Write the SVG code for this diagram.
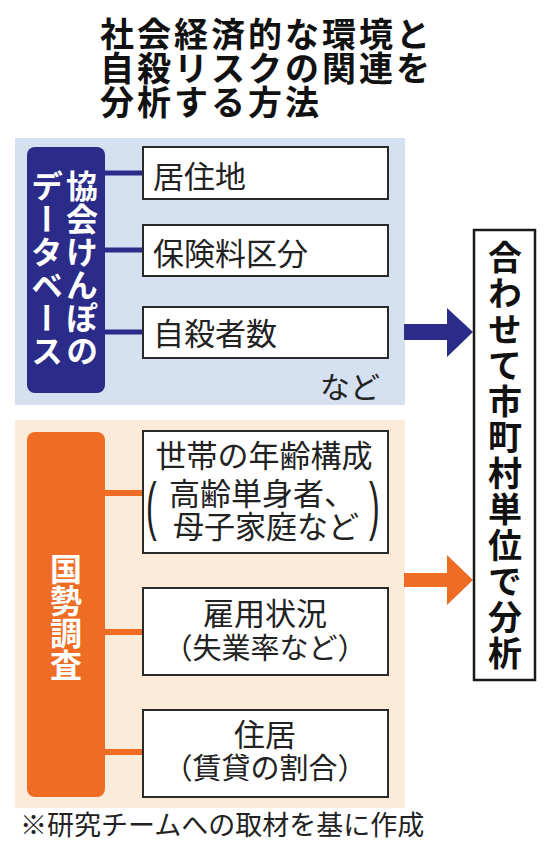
<svg xmlns="http://www.w3.org/2000/svg" width="550" height="860" viewBox="0 0 550 860">
<style>
.t{font-family:"Noto Sans CJK JP","Noto Sans CJK SC",sans-serif;}
.title{font-size:34px;font-weight:bold;fill:#111;letter-spacing:3px;}
.box{fill:#fff;stroke:#2a2a2a;stroke-width:2;}
.lbl{font-size:31px;fill:#222;}
.vert{writing-mode:vertical-rl;font-weight:bold;fill:#fff;font-size:32px;}
.cb{stroke:#2b2c8a;stroke-width:5;fill:none;}
.co{stroke:#ef6c24;stroke-width:6;fill:none;}
.par{font-family:"Liberation Sans",sans-serif;font-size:32px;fill:#222;}
</style>
<rect width="550" height="860" fill="#fff"/>
<g id="title" class="t title">
<text x="100" y="47">社会経済的な環境と</text>
<text x="100" y="81">自殺リスクの関連を</text>
<text x="100" y="115">分析する方法</text>
</g>
<rect x="15" y="138" width="390" height="267" fill="#d5e0f1"/>
<rect x="15" y="420" width="390" height="388" fill="#fdebd9"/>
<g id="connectors">
<line class="cb" x1="105" y1="173" x2="143" y2="173"/>
<line class="cb" x1="105" y1="250" x2="143" y2="250"/>
<line class="cb" x1="105" y1="332" x2="143" y2="332"/>
<line class="co" x1="105" y1="493" x2="143" y2="493"/>
<line class="co" x1="105" y1="632" x2="143" y2="632"/>
<line class="co" x1="105" y1="752" x2="143" y2="752"/>
<polygon points="404,324 447,324 447,308 473,332 447,357 447,340 404,340" fill="#2b2c8a"/>
<polygon points="404,573 447,573 447,555 473,580 447,605 447,587 404,587" fill="#ef6c24"/>
</g>
<g id="kyokai">
<rect x="27" y="147" width="78" height="246" rx="8" fill="#2b2c8a"/>
<text class="t vert" x="82" y="170" letter-spacing="1">協会けんぽの</text>
<text class="t vert" x="47" y="170" letter-spacing="1">データベース</text>
</g>
<g id="kyojuchi"><rect class="box" x="143" y="147" width="245" height="52"/><text class="t lbl" x="153" y="188">居住地</text></g>
<g id="hokenryo"><rect class="box" x="143" y="225" width="245" height="51"/><text class="t lbl" x="153" y="265">保険料区分</text></g>
<g id="jisatsusha"><rect class="box" x="143" y="307" width="245" height="51"/><text class="t lbl" x="153" y="345">自殺者数</text></g>
<g id="nado"><text class="t" x="320" y="398" font-size="30" fill="#222">など</text></g>
<g id="kokusei">
<rect x="27" y="432" width="78" height="365" rx="8" fill="#ef6c24"/>
<text class="t vert" x="66" y="553" letter-spacing="0">国勢調査</text>
</g>
<g id="setai">
<rect class="box" x="143" y="431" width="245" height="122"/>
<text class="t lbl" x="264" y="467" text-anchor="middle">世帯の年齢構成</text>
<text class="t lbl" x="262" y="505" text-anchor="middle">高齢単身者、</text>
<text class="t lbl" x="266" y="538" text-anchor="middle">母子家庭など</text>
<text class="par" transform="translate(146,528) scale(1,2)">(</text>
<text class="par" transform="translate(369,528) scale(1,2)">)</text>
</g>
<g id="koyo">
<rect class="box" x="143" y="588" width="245" height="87"/>
<text class="t lbl" x="265" y="625" text-anchor="middle">雇用状況</text>
<text class="t" x="265" y="659" text-anchor="middle" font-size="29" fill="#222">（失業率など）</text>
</g>
<g id="jukyo">
<rect class="box" x="143" y="710" width="245" height="87"/>
<text class="t lbl" x="265" y="746" text-anchor="middle">住居</text>
<text class="t" x="265" y="779" text-anchor="middle" font-size="29" fill="#222">（賃貸の割合）</text>
</g>
<g id="bunseki">
<rect x="474" y="230" width="61" height="450" fill="#fff" stroke="#1a1a1a" stroke-width="2.5"/>
<text class="t" x="505" y="240" style="writing-mode:vertical-rl" font-size="34" font-weight="bold" fill="#111" letter-spacing="2">合わせて市町村単位で分析</text>
</g>
<g id="footer"><text x="20" y="835" font-family="Liberation Serif,'Noto Sans CJK JP',serif" font-size="27" fill="#222">※研究チームへの取材を基に作成</text></g>
</svg>
